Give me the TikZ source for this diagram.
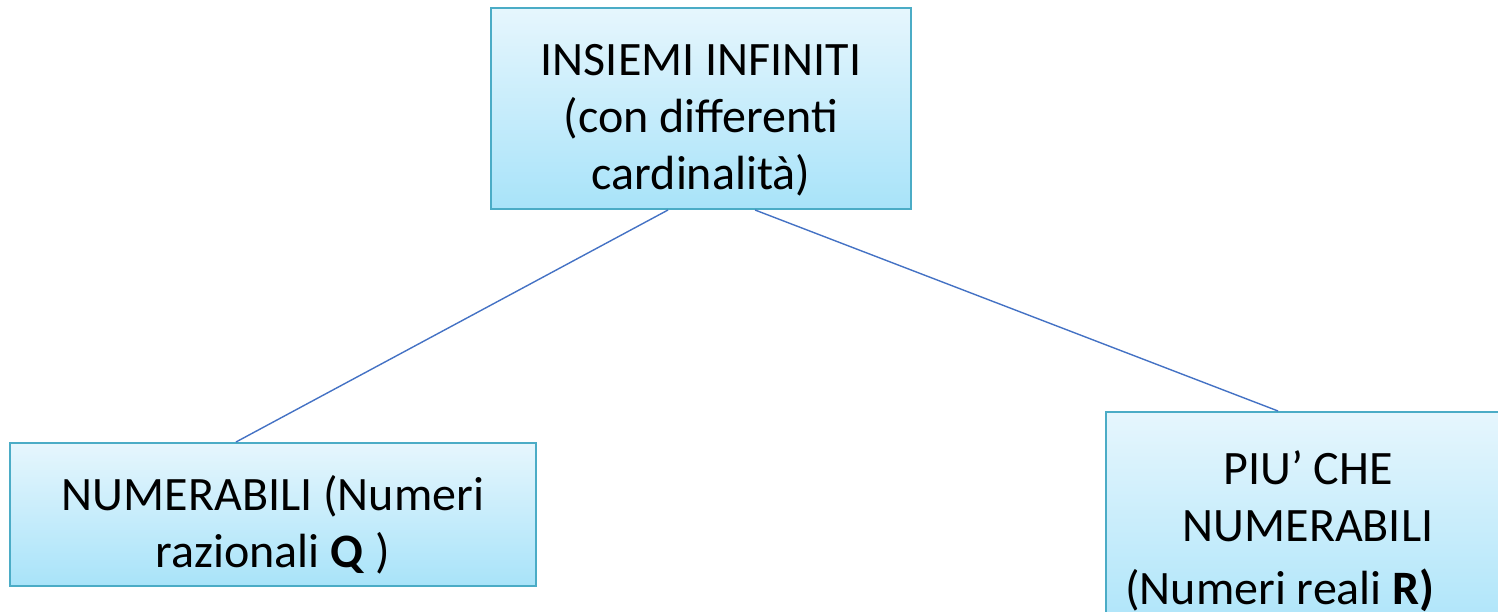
\documentclass[tikz,border=0pt]{standalone}
\usepackage{fontspec}
\setmainfont{Carlito}
\usetikzlibrary{calc}
\definecolor{boxline}{HTML}{4BACC6}
\definecolor{boxtop}{HTML}{E6F6FD}
\definecolor{boxbot}{HTML}{A8E3F9}
\definecolor{conn}{HTML}{4472C4}
\tikzset{
  boxnode/.style={draw=boxline, line width=2pt, top color=boxtop, bottom color=boxbot,
    rectangle, inner sep=0pt, align=center, font=\fontsize{48}{57}\selectfont},
  connline/.style={draw=conn, line width=1.4pt}
}
\begin{document}
\begin{tikzpicture}[x=1pt,y=1pt]
\useasboundingbox (0,0) rectangle (1498,611);
\begin{scope}
\clip (0,0) rectangle (1498,611);
\node[boxnode, minimum width=420pt, minimum height=201pt] (top) at (701,502.5)
  {\rule{0pt}{54pt}INSIEMI INFINITI\\(con differenti\\cardinalità)};
\node[boxnode, minimum width=526pt, minimum height=143pt] (left) at (273,96.5)
  {\rule{0pt}{56pt}NUMERABILI (Numeri\\razionali \textbf{Q} )};
\node[boxnode, minimum width=404pt, minimum height=238pt] (right) at (1308,80)
  {PIU’ CHE\\NUMERABILI\\[6pt](Numeri reali \textbf{R)}\hspace*{56pt}};
\end{scope}
\draw[connline] ($(top.south)+(-33,0)$) -- ($(left.north)+(-37,0)$);
\draw[connline] ($(top.south)+(54,0)$) -- ($(right.north)+(-30,0)$);
\end{tikzpicture}
\end{document}
